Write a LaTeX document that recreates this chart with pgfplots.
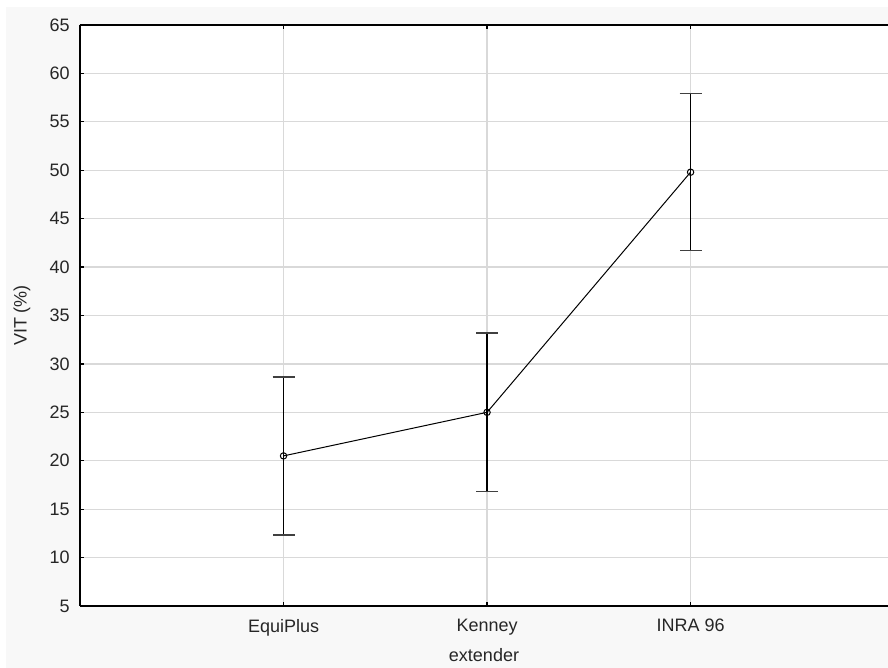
\documentclass[border=0pt]{standalone}
\usepackage{fontspec}
\setmainfont{Liberation Sans}
\usepackage{pgfplots}
\pgfplotsset{compat=1.18}
\definecolor{bggray}{HTML}{F8F8F8}
\definecolor{gridgray}{HTML}{D9D9D9}
\begin{document}
\fontsize{9}{10}\selectfont
\begin{tikzpicture}
\path[use as bounding box] (-40pt,-31pt) rectangle (404pt,303pt);
\fill[bggray] (-37pt,-31pt) rectangle (404pt,299.5pt);
\begin{axis}[
  at={(0,0)}, anchor=south west,
  scale only axis, width=404pt, height=290.5pt,
  xmin=0, xmax=3.97, ymin=5, ymax=65,
  xtick={1,2,3}, xticklabels={EquiPlus, Kenney, INRA 96},
  ytick={5,10,...,65},
  separate axis lines,
  axis x line*=box, axis y line*=left,
  axis line style={black, line width=0.8pt},
  axis background/.style={fill=white},
  grid=major, major grid style={gridgray, line width=0.6pt},
  tick align=inside, major tick length=2pt,
  tick style={black, line width=0.6pt},
  xtick pos=both,
  ytick pos=left,
  /pgf/number format/assume math mode=true,
  ticklabel style={font=\fontsize{9}{10}\selectfont, text=black!85},
  yticklabel style={xshift=-2pt},
  xticklabel style={yshift=-3.5pt},
  xlabel={extender}, ylabel={VIT (\%)},
  label style={font=\fontsize{9}{10}\selectfont, text=black!85},
  xlabel style={at={(axis description cs:0.5,-0.0843)}, anchor=center},
  ylabel style={at={(axis description cs:-0.0718,0.5)}, anchor=center},
]
\addplot[black, line width=0.5pt, mark=o, mark size=1.6pt,
  mark options={solid, line width=0.5pt},
  error bars/.cd, y dir=both, y explicit,
  error bar style={black, line width=0.7pt},
  error mark options={rotate=90, mark size=5.5pt, line width=0.7pt, black!75}]
coordinates {
  (1,20.5) +- (0,8.15)
  (2,25.0) +- (0,8.2)
  (3,49.8) +- (0,8.1)
};
\end{axis}
\end{tikzpicture}
\end{document}
